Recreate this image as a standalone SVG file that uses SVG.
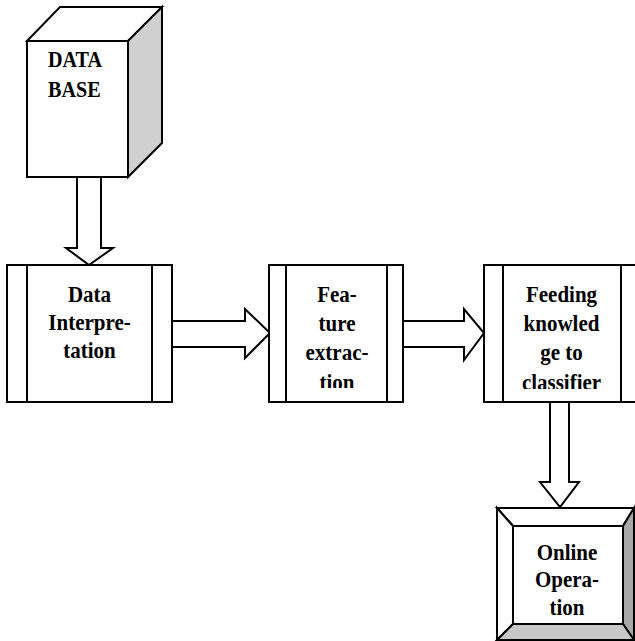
<svg xmlns="http://www.w3.org/2000/svg" width="635" height="641" viewBox="0 0 635 641">
<style>
.s{stroke:#000;stroke-width:2;stroke-linejoin:miter}
.w{fill:#fff}
.t{font-family:"Liberation Serif","Times New Roman",serif;font-weight:bold;font-size:21px;fill:#000}
.c{text-anchor:middle}
</style>
<defs>
<clipPath id="clipFe"><rect x="286" y="266" width="101" height="122"/></clipPath>
<clipPath id="clipFd"><rect x="503" y="266" width="118" height="123"/></clipPath>
</defs>
<rect width="635" height="641" fill="#fff"/>
<g id="connectors">
<polygon class="s w" points="77,177 101,177 101,248 113,248 89,265 66,248 77,248"/>
<polygon class="s w" points="172,321 245,321 245,309 270,333 245,358 245,347 172,347"/>
<polygon class="s w" points="403,321 464,321 464,309 484,333 464,360 464,347 403,347"/>
<polygon class="s w" points="550,402 569,402 569,482 579,482 560,507 540,482 550,482"/>
</g>
<g id="database">
<polygon class="s w" points="27,41 60,7 162,7 128,41"/>
<polygon class="s" fill="#d0d0d0" points="128,41 162,7 162,143 128,177"/>
<rect class="s w" x="27" y="41" width="101" height="136"/>
<text class="t" transform="translate(48,66.5) scale(0.96,1.1)">DATA</text>
<text class="t" transform="translate(48,97) scale(0.96,1.1)">BASE</text>
</g>
<g id="data-interpretation">
<rect class="s w" x="7" y="265" width="165" height="137"/>
<line class="s" x1="27" y1="265" x2="27" y2="402"/>
<line class="s" x1="152" y1="265" x2="152" y2="402"/>
<text class="t c" transform="translate(89.5,302) scale(1,1.07)">Data</text>
<text class="t c" transform="translate(89.5,329.5) scale(1,1.07)">Interpre-</text>
<text class="t c" transform="translate(89.5,357.5) scale(1,1.07)">tation</text>
</g>
<g id="feature-extraction">
<rect class="s w" x="269" y="265" width="134" height="137"/>
<line class="s" x1="286" y1="265" x2="286" y2="402"/>
<line class="s" x1="387" y1="265" x2="387" y2="402"/>
<g clip-path="url(#clipFe)">
<text class="t c" transform="translate(337,301.5) scale(1,1.07)">Fea-</text>
<text class="t c" transform="translate(337,330.5) scale(1,1.07)">ture</text>
<text class="t c" transform="translate(337,360) scale(1,1.07)">extrac-</text>
<text class="t c" transform="translate(337,390) scale(1,1.07)">tion</text>
</g>
</g>
<g id="feeding-knowledge">
<rect class="s w" x="484" y="265" width="160" height="137"/>
<line class="s" x1="503" y1="265" x2="503" y2="402"/>
<line class="s" x1="621" y1="265" x2="621" y2="402"/>
<g clip-path="url(#clipFd)">
<text class="t c" transform="translate(561.5,301.5) scale(1,1.07)">Feeding</text>
<text class="t c" transform="translate(561.5,330.5) scale(1,1.07)">knowled</text>
<text class="t c" transform="translate(561.5,360) scale(1,1.07)">ge to</text>
<text class="t c" transform="translate(561.5,390) scale(1,1.07)">classifier</text>
</g>
</g>
<g id="online-operation">
<polygon class="s w" points="497,508 634,508 623,526 513,526"/>
<polygon class="s w" points="497,508 513,526 513,624 497,640"/>
<polygon class="s" fill="#a8a8a8" points="634,508 634,640 623,624 623,526"/>
<polygon class="s" fill="#c8c8c8" points="497,640 513,624 623,624 634,640"/>
<rect class="s w" x="513" y="526" width="110" height="98"/>
<text class="t c" transform="translate(567,560) scale(1,1.07)">Online</text>
<text class="t c" transform="translate(567,587) scale(1,1.07)">Opera-</text>
<text class="t c" transform="translate(567,615) scale(1,1.07)">tion</text>
</g>
</svg>
